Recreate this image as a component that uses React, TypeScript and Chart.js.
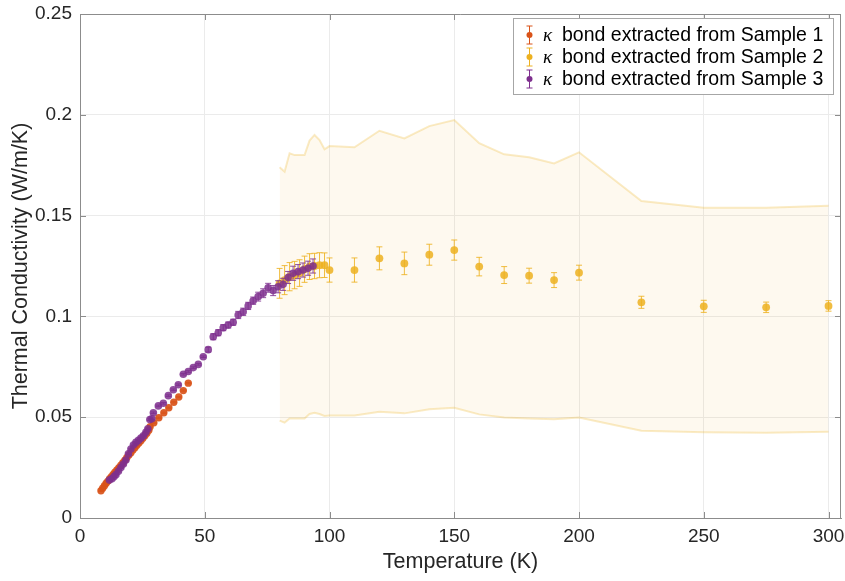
import React, { useEffect, useRef } from 'react';
import { Chart, registerables } from 'chart.js';

Chart.register(...registerables);

// ---------- DATA ----------
const sample1T = [8.4, 9.1, 9.8, 10.5, 11.2, 11.9, 12.6, 13.3, 14.0, 14.8, 15.6, 16.4, 17.2, 18.0, 18.8, 19.6, 20.4, 21.2, 22.0, 22.8, 23.6, 24.4, 25.2, 26.0, 26.8, 27.6, 28.1, 29.6, 31.6, 33.6, 35.6, 37.6, 39.6, 41.4, 43.4];
const sample1K = [0.0135, 0.0148, 0.016, 0.0172, 0.0183, 0.0195, 0.0205, 0.0216, 0.0227, 0.0238, 0.025, 0.0262, 0.0274, 0.0287, 0.03, 0.0312, 0.0324, 0.0337, 0.0349, 0.0361, 0.0372, 0.0383, 0.0395, 0.0408, 0.0421, 0.0435, 0.0453, 0.0472, 0.0497, 0.0522, 0.0547, 0.0574, 0.06, 0.0632, 0.0669];
const sample1Err = [0.0003, 0.0003, 0.0003, 0.0003, 0.0003, 0.0003, 0.0003, 0.0003, 0.0003, 0.0003, 0.0003, 0.0003, 0.0003, 0.0003, 0.0003, 0.0003, 0.0003, 0.0003, 0.0003, 0.0003, 0.0003, 0.0003, 0.0003, 0.0003, 0.0003, 0.0003, 0.0003, 0.0003, 0.0003, 0.0003, 0.0003, 0.0003, 0.0003, 0.0003, 0.0003];

const sample2T = [80, 82, 84, 86, 88, 90, 92, 94, 96, 98, 100, 110, 120, 130, 140, 150, 160, 170, 180, 190, 200, 225, 250, 275, 300];
const sample2K = [0.1164, 0.118, 0.1197, 0.1205, 0.1215, 0.1234, 0.1247, 0.125, 0.1254, 0.1254, 0.123, 0.123, 0.1288, 0.1263, 0.1306, 0.1329, 0.1247, 0.1205, 0.1202, 0.118, 0.1217, 0.107, 0.105, 0.1045, 0.1052];
const sample2Err = [0.0074, 0.0072, 0.007, 0.0068, 0.0066, 0.0065, 0.0064, 0.0063, 0.0062, 0.0061, 0.006, 0.006, 0.0057, 0.0056, 0.0052, 0.005, 0.0046, 0.0042, 0.0037, 0.0037, 0.0037, 0.003, 0.003, 0.0026, 0.0026];

const sample3T = [11.8, 12.8, 13.6, 14.4, 15.4, 16.4, 17.4, 18.4, 19.4, 20.4, 21.4, 22.4, 23.4, 24.4, 25.4, 26.4, 27.2, 28.0, 28.8, 29.4, 31.4, 33.4, 35.4, 37.4, 39.4, 41.4, 43.4, 45.4, 47.4, 49.4, 51.4, 53.4, 55.4, 57.4, 59.4, 61.4, 63.4, 65.4, 67.4, 69.4, 71.4, 73.4, 75.4, 77.4, 79.4, 81.4, 83.4, 85.4, 87.4, 89.4, 91.4, 93.4];
const sample3K = [0.0188, 0.0195, 0.0205, 0.0215, 0.0232, 0.025, 0.0268, 0.0288, 0.0318, 0.0342, 0.0362, 0.0375, 0.0385, 0.0396, 0.0408, 0.0425, 0.0443, 0.0488, 0.0492, 0.0522, 0.0556, 0.0569, 0.0607, 0.0636, 0.0661, 0.0713, 0.0727, 0.0746, 0.0762, 0.08, 0.0835, 0.0899, 0.0919, 0.0944, 0.0957, 0.0971, 0.1007, 0.1023, 0.1052, 0.1078, 0.1098, 0.1115, 0.1142, 0.1128, 0.1147, 0.1159, 0.1193, 0.1214, 0.1222, 0.123, 0.1239, 0.125];
const sample3Err = [0.0004, 0.0004, 0.0004, 0.0004, 0.0004, 0.0004, 0.0004, 0.0004, 0.0004, 0.0004, 0.0004, 0.0004, 0.0004, 0.0004, 0.0004, 0.0004, 0.0004, 0.0004, 0.0004, 0.0004, 0.0004, 0.0004, 0.0004, 0.0004, 0.0004, 0.0004, 0.0004, 0.0004, 0.0004, 0.0004, 0.0012, 0.0015, 0.0015, 0.0015, 0.0015, 0.0015, 0.0018, 0.0018, 0.0018, 0.0018, 0.0022, 0.0022, 0.0022, 0.0025, 0.003, 0.003, 0.003, 0.0035, 0.0035, 0.0035, 0.0035, 0.0035];

const bandT = [80, 82, 84, 86, 88, 90, 92, 94, 96, 98, 100, 110, 120, 130, 140, 150, 160, 170, 180, 190, 200, 225, 250, 275, 300];
const bandUpper = [0.174, 0.1718, 0.1809, 0.18, 0.18, 0.18, 0.1872, 0.19, 0.1875, 0.1829, 0.1845, 0.1839, 0.1921, 0.1883, 0.1944, 0.1974, 0.1859, 0.1804, 0.1789, 0.1759, 0.1814, 0.1572, 0.1539, 0.1539, 0.1549];
const bandLower = [0.0483, 0.0473, 0.0494, 0.0494, 0.0494, 0.0494, 0.0516, 0.0522, 0.0516, 0.0506, 0.0508, 0.0508, 0.0527, 0.0519, 0.0539, 0.0547, 0.0514, 0.0498, 0.0494, 0.049, 0.0499, 0.0433, 0.0425, 0.0423, 0.0428];

const xTicks = [0, 50, 100, 150, 200, 250, 300];
const yTicks = [0, 0.05, 0.1, 0.15, 0.2, 0.25];
const legendLabels = ['bond extracted from Sample 1', 'bond extracted from Sample 2', 'bond extracted from Sample 3'];

const xTitle = 'Temperature (K)';
const yTitle = 'Thermal Conductivity (W/m/K)';

// ---------- STYLE ----------
const FONT = "'Liberation Sans', Arial, Helvetica, sans-serif";
const TEXT = '#262626';
const AXIS = '#8c8c8c';
const GRID = '#ebebeb';
const C1 = '#D95319';
const C2 = '#EDB120';
const C3 = '#7E2F8E';

const toXY = (xs: number[], ys: number[]) => xs.map((x, i) => ({ x, y: ys[i] }));

const errorBarPlugin = {
  id: 'errorBars',
  beforeDatasetDraw(chart: any, args: any) {
    const ds = chart.data.datasets[args.index];
    if (!ds.errors) return;
    const ctx = chart.ctx;
    const ys = chart.scales.y;
    const cap = 3;
    ctx.save();
    ctx.strokeStyle = ds.errColor;
    ctx.lineWidth = 1;
    args.meta.data.forEach((pt: any, i: number) => {
      const v = ds.data[i].y;
      const e = ds.errors[i];
      const yt = ys.getPixelForValue(v + e);
      const yb = ys.getPixelForValue(v - e);
      const x = pt.x;
      ctx.beginPath();
      ctx.moveTo(x, yt);
      ctx.lineTo(x, yb);
      ctx.moveTo(x - cap, yt);
      ctx.lineTo(x + cap, yt);
      ctx.moveTo(x - cap, yb);
      ctx.lineTo(x + cap, yb);
      ctx.stroke();
    });
    ctx.restore();
  },
};

const boxPlugin = {
  id: 'boxTicks',
  afterDatasetsDraw(chart: any) {
    const { ctx, chartArea: a, scales } = chart;
    const tl = 6;
    ctx.save();
    ctx.strokeStyle = AXIS;
    ctx.lineWidth = 1;
    ctx.beginPath();
    ctx.moveTo(a.left, a.top + 0.5);
    ctx.lineTo(a.right - 0.5, a.top + 0.5);
    ctx.lineTo(a.right - 0.5, a.bottom);
    ctx.stroke();
    ctx.beginPath();
    xTicks.forEach((v) => {
      const x = Math.round(scales.x.getPixelForValue(v)) + 0.5;
      ctx.moveTo(x, a.bottom);
      ctx.lineTo(x, a.bottom - tl);
      ctx.moveTo(x, a.top);
      ctx.lineTo(x, a.top + tl);
    });
    yTicks.forEach((v) => {
      const y = Math.round(scales.y.getPixelForValue(v)) + 0.5;
      ctx.moveTo(a.left, y);
      ctx.lineTo(a.left + tl, y);
      ctx.moveTo(a.right, y);
      ctx.lineTo(a.right - tl, y);
    });
    ctx.stroke();
    ctx.restore();
  },
};

const legendPlugin = {
  id: 'customLegend',
  afterDraw(chart: any) {
    const ctx = chart.ctx;
    const bx = 513.5, by = 18.5, bw = 320, bh = 76;
    ctx.save();
    ctx.fillStyle = '#ffffff';
    ctx.fillRect(bx, by, bw, bh);
    ctx.strokeStyle = '#a6a6a6';
    ctx.lineWidth = 1;
    ctx.strokeRect(bx, by, bw, bh);
    const colors = [C1, C2, C3];
    const rows = [35, 57, 79];
    rows.forEach((cy, i) => {
      const ix = 529.5;
      ctx.strokeStyle = colors[i];
      ctx.lineWidth = 1;
      ctx.beginPath();
      ctx.moveTo(ix, cy - 9);
      ctx.lineTo(ix, cy + 9);
      ctx.moveTo(ix - 3, cy - 9);
      ctx.lineTo(ix + 3, cy - 9);
      ctx.moveTo(ix - 3, cy + 9);
      ctx.lineTo(ix + 3, cy + 9);
      ctx.stroke();
      ctx.fillStyle = colors[i];
      ctx.beginPath();
      ctx.arc(ix, cy, 3, 0, Math.PI * 2);
      ctx.fill();
      ctx.fillStyle = '#000000';
      ctx.textBaseline = 'middle';
      ctx.textAlign = 'left';
      ctx.font = "italic 19px 'Liberation Serif', 'DejaVu Serif', serif";
      ctx.fillText('κ', 543, cy + 1);
      ctx.font = `19.5px ${FONT}`;
      ctx.fillText(legendLabels[i], 562, cy + 1);
    });
    ctx.restore();
  },
};

export default function App() {
  const ref = useRef<HTMLCanvasElement | null>(null);
  useEffect(() => {
    if (!ref.current) return;
    const chart = new Chart(ref.current, {
      type: 'scatter',
      data: {
        datasets: [
          {
            label: 'upper',
            data: toXY(bandT, bandUpper),
            showLine: true,
            borderColor: 'rgba(237,177,32,0.26)',
            borderWidth: 2,
            pointRadius: 0,
            fill: '+1',
            backgroundColor: 'rgba(237,177,32,0.07)',
            order: 5,
          } as any,
          {
            label: 'lower',
            data: toXY(bandT, bandLower),
            showLine: true,
            borderColor: 'rgba(237,177,32,0.26)',
            borderWidth: 2,
            pointRadius: 0,
            fill: false,
            order: 4,
          } as any,
          {
            label: 'Sample 1',
            data: toXY(sample1T, sample1K),
            errors: sample1Err,
            errColor: 'rgba(217,83,25,0.85)',
            pointRadius: 3.7,
            pointBorderWidth: 0,
            pointBackgroundColor: 'rgba(217,83,25,0.92)',
            showLine: false,
            order: 3,
          } as any,
          {
            label: 'Sample 2',
            data: toXY(sample2T, sample2K),
            errors: sample2Err,
            errColor: 'rgba(237,177,32,0.85)',
            pointRadius: 3.9,
            pointBorderWidth: 0,
            pointBackgroundColor: 'rgba(237,177,32,0.85)',
            showLine: false,
            order: 2,
          } as any,
          {
            label: 'Sample 3',
            data: toXY(sample3T, sample3K),
            errors: sample3Err,
            errColor: 'rgba(126,47,142,0.85)',
            pointRadius: 3.8,
            pointBorderWidth: 0,
            pointBackgroundColor: 'rgba(126,47,142,0.85)',
            showLine: false,
            order: 1,
          } as any,
        ],
      },
      options: {
        animation: false,
        responsive: false,
        layout: { padding: { left: 0, top: 14, right: 3, bottom: 0 } },
        plugins: {
          legend: { display: false },
          tooltip: { enabled: false },
        },
        scales: {
          x: {
            type: 'linear',
            min: 0,
            max: 305,
            afterBuildTicks: (s: any) => {
              s.ticks = xTicks.map((v) => ({ value: v }));
            },
            afterFit: (s: any) => {
              s.height = 63;
              s.paddingLeft = 0;
              s.paddingRight = 0;
            },
            grid: { color: GRID, drawTicks: false, lineWidth: 1 },
            border: { display: true, color: AXIS, width: 1 },
            ticks: {
              padding: 7,
              color: TEXT,
              font: { family: FONT, size: 19 },
              maxRotation: 0,
              autoSkip: false,
              callback: (v: any) => String(v),
            },
            title: {
              display: true,
              text: xTitle,
              color: TEXT,
              font: { family: FONT, size: 21.5 },
              padding: { top: 0, bottom: 6 },
            },
          },
          y: {
            type: 'linear',
            min: 0,
            max: 0.25,
            afterBuildTicks: (s: any) => {
              s.ticks = yTicks.map((v) => ({ value: v }));
            },
            afterFit: (s: any) => {
              s.width = 80;
              s.paddingTop = 0;
              s.paddingBottom = 0;
            },
            grid: { color: GRID, drawTicks: false, lineWidth: 1 },
            border: { display: true, color: AXIS, width: 1 },
            ticks: {
              padding: 8,
              color: TEXT,
              font: { family: FONT, size: 19 },
              autoSkip: false,
              callback: (v: any) => String(v),
            },
            title: {
              display: true,
              text: yTitle,
              color: TEXT,
              font: { family: FONT, size: 21.5 },
              padding: { top: 8, bottom: 0 },
            },
          },
        },
      },
      plugins: [errorBarPlugin, boxPlugin, legendPlugin],
    } as any);
    return () => chart.destroy();
  }, []);
  return (
    <div style={{ position: 'absolute', left: 0, top: 0, width: 845, height: 581, background: '#fff' }}>
      <canvas ref={ref} width={845} height={581} style={{ display: 'block' }} />
    </div>
  );
}
